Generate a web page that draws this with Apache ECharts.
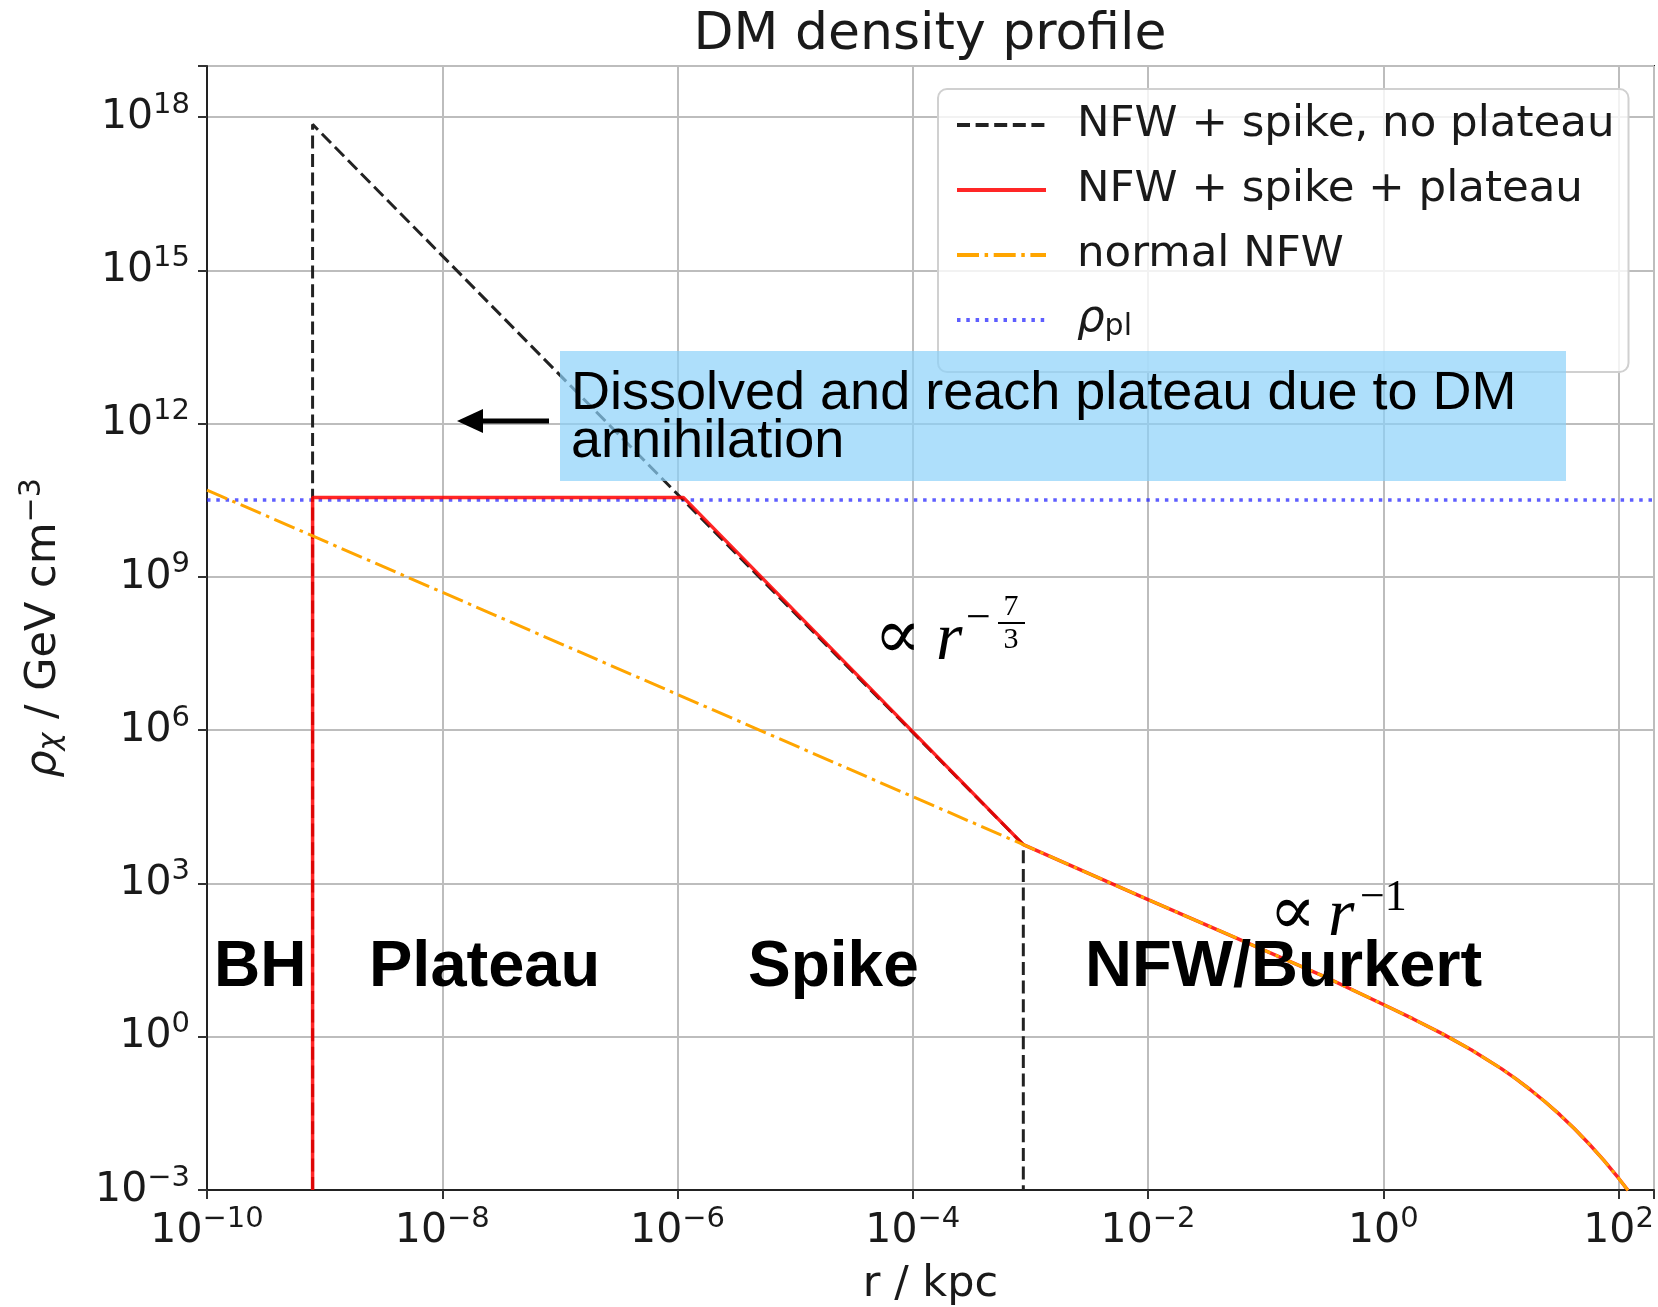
<!DOCTYPE html>
<html>
<head>
<meta charset="utf-8">
<script src="https://cdn.jsdelivr.net/npm/echarts@6/dist/echarts.min.js"></script>
<style>
html,body{margin:0;padding:0;background:#ffffff;}
#chart{width:1658px;height:1307px;}
</style>
</head>
<body>
<div id="chart"></div>
<script>
// ---- data (r in kpc, rho in GeV cm^-3) ----
const xTickExponents = [-10, -8, -6, -4, -2, 0, 2];
const yTickExponents = [-3, 0, 3, 6, 9, 12, 15, 18];
const seriesNames = ['NFW + spike, no plateau', 'NFW + spike + plateau', 'normal NFW', 'ρpl'];

// common NFW tail (beyond the spike radius)
const nfwTailR   = [8.7e-4, 1e-2, 0.1, 0.3162, 1.0, 1.778, 3.162, 5.623, 10.0, 13.34, 17.78, 23.71, 31.62, 42.17, 56.23, 74.99, 100, 120.2];
const nfwTailRho = [5.75e3, 484, 47.9, 15.0, 4.27, 2.254, 1.151, 0.552, 0.240, 0.151, 0.0916, 0.0534, 0.0298, 0.0158, 0.00796, 0.00379, 0.0017, 0.000982];

// NFW + spike, no plateau
const noPlateauR   = [7.9e-10, 7.9e-10, 8.7e-4, 8.7e-4];
const noPlateauRho = [1e-3, 7.2e17, 5.75e3, 1e-3];

// NFW + spike + plateau (inner part; continues with the NFW tail)
const plateauR   = [7.9e-10, 7.9e-10, 1.12e-6];
const plateauRho = [1e-3, 3.6e10, 3.6e10];

// normal NFW (inner part; continues with the NFW tail)
const normalNfwR   = [1e-10];
const normalNfwRho = [5.0e10];

// plateau density rho_pl
const rhoPlR   = [1e-10, 200];
const rhoPlRho = [3.2e10, 3.2e10];

function zip(rs, rhos) { return rs.map((r, i) => [r, rhos[i]]); }
const tail = zip(nfwTailR, nfwTailRho);
const dataNoPlateau = zip(noPlateauR, noPlateauRho);
const dataPlateau = zip(plateauR, plateauRho).concat(tail);
const dataNormal = zip(normalNfwR, normalNfwRho).concat(tail);
const dataRhoPl = zip(rhoPlR, rhoPlRho);

const FONT = 'DejaVu Sans';
const TXT = '#1a1a1a';
const SERIF = "'Liberation Serif', 'DejaVu Serif', serif";
const MATHSYM = "'DejaVu Serif', 'Liberation Serif', serif";

function powLabel(v, allowed) {
  const e = Math.log10(v);
  const k = Math.round(e);
  if (Math.abs(e - k) > 1e-6 || allowed.indexOf(k) < 0) return '';
  const s = k < 0 ? '\u2212' + (-k) : String(k);
  return '{b|10}{s|' + s + '}';
}
const tickRich = {
  b: { fontSize: 41, fontFamily: FONT, color: TXT, lineHeight: 53 },
  s: { fontSize: 29, fontFamily: FONT, color: TXT, lineHeight: 53, padding: [0, 0, 24, 0] }
};

function txt(x, y, text, size, family, extra) {
  return Object.assign({ type: 'text', z: 51, x: x, y: y,
    style: Object.assign({ text: text, fontFamily: family, fontSize: size, fill: '#000',
      align: 'left', verticalAlign: 'middle', textAlign: 'left', textVerticalAlign: 'middle' }, extra || {}) });
}

const chart = echarts.init(document.getElementById('chart'), null, { renderer: 'canvas' });

const option = {
  animation: false,
  backgroundColor: '#ffffff',
  title: {
    text: 'DM density profile',
    left: 930, top: 9, padding: 0, textAlign: 'center',
    textStyle: { fontFamily: FONT, fontSize: 52, fontWeight: 'normal', color: TXT, lineHeight: 52 }
  },
  grid: {
    left: 207, right: 4, top: 66, bottom: 117,
    containLabel: false, outerBoundsMode: 'none',
    show: true, borderColor: '#222', borderWidth: 2, backgroundColor: 'transparent'
  },
  legend: {
    orient: 'vertical', left: 938, top: 89,
    padding: [14, 14, 30, 17],
    itemGap: 21, itemWidth: 89, itemHeight: 20,
    selectedMode: false,
    backgroundColor: 'rgba(255,255,255,0.8)',
    borderColor: '#d0d0d0', borderWidth: 2, borderRadius: 9,
    itemStyle: { opacity: 0, borderWidth: 0 },
    lineStyle: { width: 4 },
    data: seriesNames,
    formatter: function (name) {
      if (name === 'ρpl') return '{it|ρ}{sub|pl}';
      return name;
    },
    textStyle: {
      fontFamily: FONT, fontSize: 43.5, color: TXT, lineHeight: 44, padding: [0, 0, 0, 26],
      rich: {
        it: { fontFamily: FONT, fontSize: 43.5, fontStyle: 'italic', color: TXT, lineHeight: 44 },
        sub: { fontFamily: FONT, fontSize: 30, color: TXT, lineHeight: 44, padding: [14, 0, 0, 0] }
      }
    }
  },
  xAxis: {
    type: 'log', logBase: 10, min: 1e-10, max: 200, interval: 2,
    name: 'r / kpc', nameLocation: 'middle', nameGap: 73,
    nameTextStyle: { fontFamily: FONT, fontSize: 43, color: TXT, lineHeight: 43 },
    axisLine: { show: true, lineStyle: { color: '#222', width: 2 } },
    axisTick: { show: true, length: 9, lineStyle: { color: '#333', width: 2 } },
    axisLabel: {
      margin: 15, formatter: v => powLabel(v, xTickExponents), rich: tickRich,
      showMinLabel: true, showMaxLabel: true, hideOverlap: false
    },
    splitLine: { show: true, lineStyle: { color: '#bdbdbd', width: 2 } },
    minorTick: { show: false }, minorSplitLine: { show: false }
  },
  yAxis: {
    type: 'log', logBase: 10, min: 1e-3, max: 1e19, interval: 3,
    name: '{i|ρ}{ss|χ}{n| / GeV cm}{sp|\u22123}',
    nameLocation: 'middle', nameGap: 136, nameRotate: 90,
    nameTextStyle: {
      fontFamily: FONT, fontSize: 43, color: TXT, lineHeight: 55,
      rich: {
        i: { fontFamily: FONT, fontSize: 43, fontStyle: 'italic', color: TXT, lineHeight: 55 },
        ss: { fontFamily: FONT, fontSize: 30, fontStyle: 'italic', color: TXT, lineHeight: 55, padding: [16, 0, 0, 0] },
        n: { fontFamily: FONT, fontSize: 43, color: TXT, lineHeight: 55 },
        sp: { fontFamily: FONT, fontSize: 30, color: TXT, lineHeight: 55, padding: [0, 0, 22, 0] }
      }
    },
    axisLine: { show: true, lineStyle: { color: '#222', width: 2 } },
    axisTick: { show: true, length: 9, lineStyle: { color: '#333', width: 2 } },
    axisLabel: {
      margin: 17, formatter: v => powLabel(v, yTickExponents), rich: tickRich,
      showMinLabel: true, showMaxLabel: true, hideOverlap: false
    },
    splitLine: { show: true, lineStyle: { color: '#bdbdbd', width: 2 } },
    minorTick: { show: false }, minorSplitLine: { show: false }
  },
  series: [
    {
      name: seriesNames[3], type: 'line', data: dataRhoPl, symbol: 'none', z: 2,
      color: 'rgba(40,40,255,0.75)',
      lineStyle: { color: 'rgba(40,40,255,0.75)', width: 3.5, type: [3.5, 5.8] }
    },
    {
      name: seriesNames[0], type: 'line', data: dataNoPlateau, symbol: 'none', z: 3,
      color: '#222222',
      lineStyle: { color: '#222222', width: 3, type: [13, 5.6] }
    },
    {
      name: seriesNames[1], type: 'line', data: dataPlateau, symbol: 'none', z: 4,
      color: 'rgba(255,0,0,0.85)',
      lineStyle: { color: 'rgba(255,0,0,0.85)', width: 3.5 }
    },
    {
      name: seriesNames[2], type: 'line', data: dataNormal, symbol: 'none', z: 5,
      color: '#ffa500',
      lineStyle: { color: '#ffa500', width: 3, type: [22, 5.6, 3.5, 5.6] }
    }
  ],
  graphic: [
    // annotation box
    { type: 'rect', z: 50, shape: { x: 560, y: 351, width: 1006, height: 130 },
      style: { fill: 'rgba(139,209,249,0.7)' } },
    { type: 'text', z: 51, x: 571, y: 370,
      style: { text: 'Dissolved and reach plateau due to DM\nannihilation',
        fontFamily: 'Liberation Sans', fontSize: 54, lineHeight: 48, fill: '#000',
        align: 'left', verticalAlign: 'top', textAlign: 'left', textVerticalAlign: 'top' } },
    // arrow
    { type: 'rect', z: 51, shape: { x: 478, y: 418.5, width: 71, height: 5 }, style: { fill: '#000' } },
    { type: 'polygon', z: 51, shape: { points: [[457, 421], [483, 409], [483, 433]] }, style: { fill: '#000' } },
    // region labels
    txt(214, 968, 'BH', 64, 'Liberation Sans', { fontWeight: 'bold' }),
    txt(369, 968, 'Plateau', 65, 'Liberation Sans', { fontWeight: 'bold' }),
    txt(748, 968, 'Spike', 64, 'Liberation Sans', { fontWeight: 'bold' }),
    txt(1085, 968, 'NFW/Burkert', 65, 'Liberation Sans', { fontWeight: 'bold' }),
    // proportional-to r^(-7/3)
    txt(874, 640, '\u221D', 70, MATHSYM),
    txt(936, 641, 'r', 68, SERIF, { fontStyle: 'italic' }),
    txt(966, 619, '\u2212', 44, SERIF),
    txt(1011, 607, '7', 30, SERIF, { align: 'center', textAlign: 'center' }),
    { type: 'line', z: 51, shape: { x1: 998, y1: 623, x2: 1025, y2: 623 }, style: { stroke: '#000', lineWidth: 2 } },
    txt(1011, 640, '3', 30, SERIF, { align: 'center', textAlign: 'center' }),
    // proportional-to r^(-1)
    txt(1269, 916, '\u221D', 70, MATHSYM),
    txt(1328, 917, 'r', 68, SERIF, { fontStyle: 'italic' }),
    txt(1360, 898, '\u22121', 44, SERIF)
  ]
};
chart.setOption(option);
</script>
</body>
</html>
